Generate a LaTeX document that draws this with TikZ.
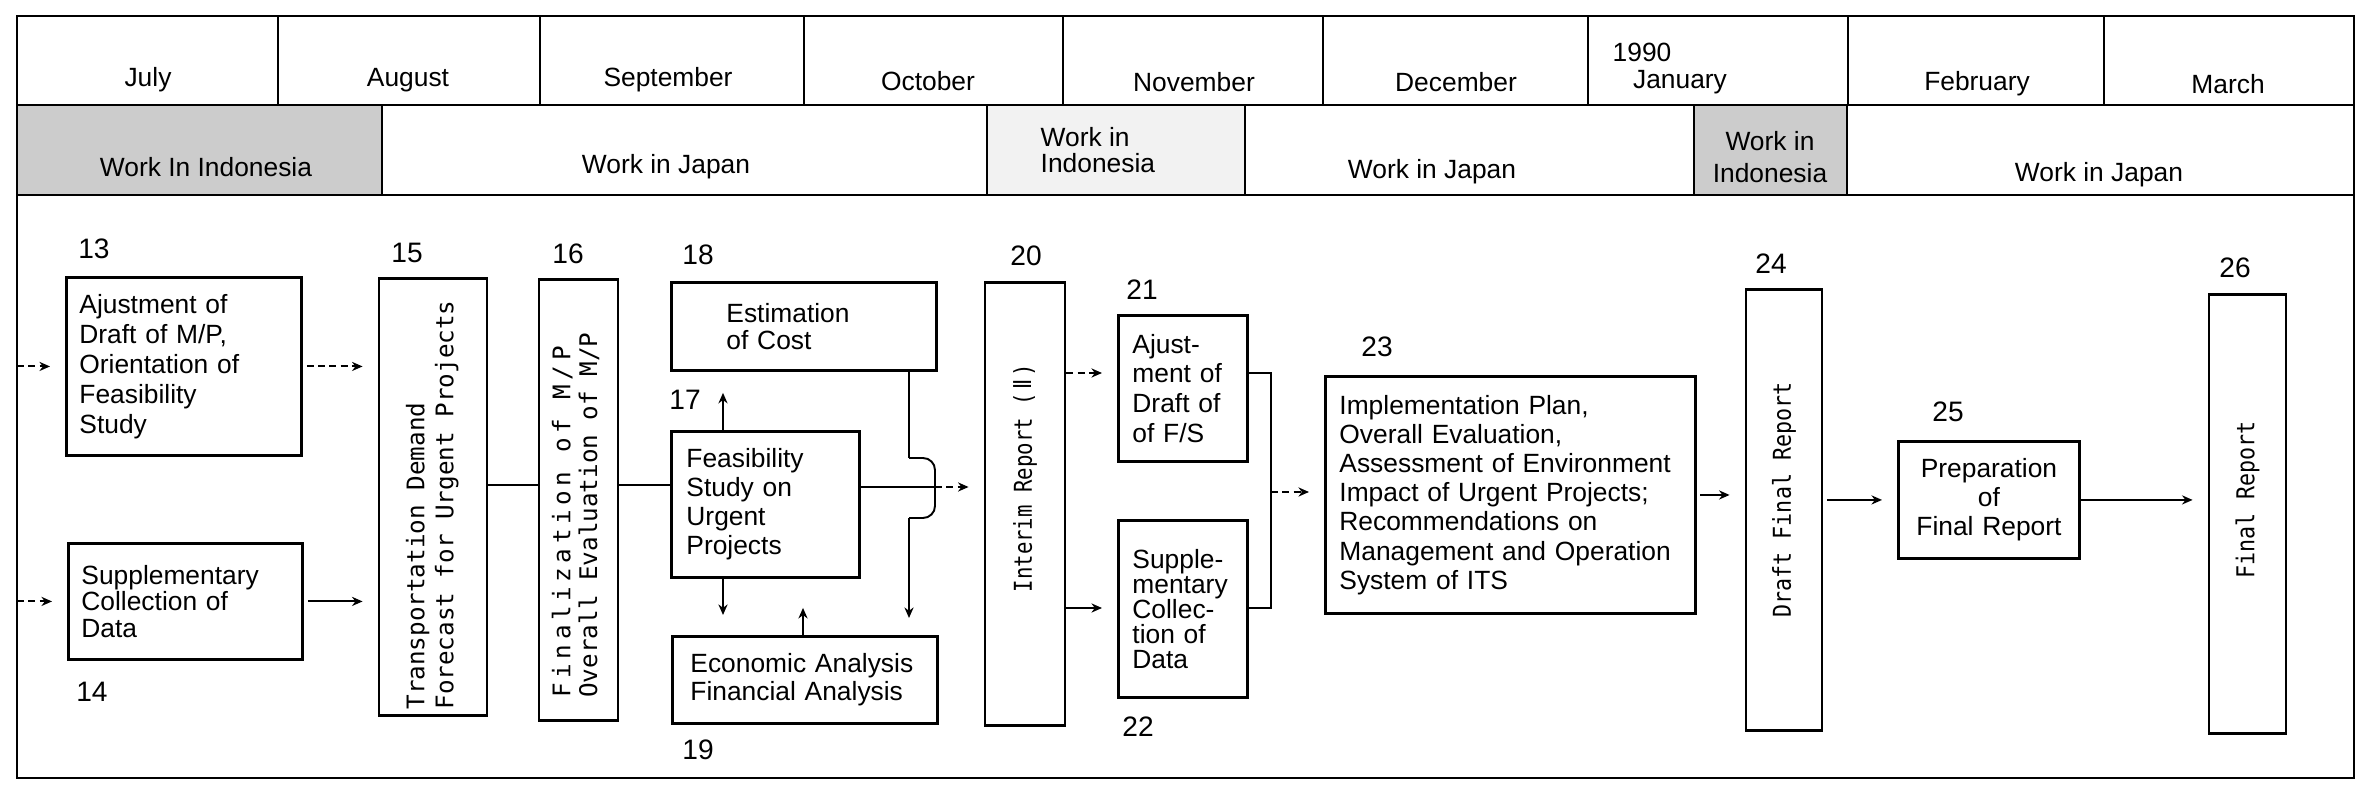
\documentclass[tikz,border=0pt]{standalone}
\usepackage{fontspec}
\setmainfont{Liberation Sans}
\newfontfamily\vmono{DejaVu Sans Mono}
\newfontfamily\symf{DejaVu Sans}
\usetikzlibrary{arrows.meta}
\newcommand\bfs[1]{\fontsize{7.5}{#1}\selectfont}
\newcommand\vfs[2]{\vmono\fontsize{#1}{#2}\selectfont}
\begin{document}
\begin{tikzpicture}[x=0.01cm, y=-0.01cm,
  frame/.style={line width=0.8pt},
  box/.style={draw, line width=0.8pt, inner ysep=0pt, anchor=north west, align=left},
  vbox/.style={draw, line width=0.8pt, inner sep=0pt},
  lbl/.style={font={\bfs{9}}, inner sep=0pt},
  num/.style={font={\fontsize{8}{9}\selectfont}, inner sep=0pt},
  line/.style={line width=0.55pt},
  arr/.style={line width=0.55pt, -{Stealth[length=3pt,width=2.6pt]}, shorten >=0.15cm},
  dsh/.style={dash pattern=on 2pt off 1.2pt}]
\useasboundingbox (0,0) rectangle (2361,795);

% ---------- header rows ----------
\filldraw[fill=black!20, frame] (17,105) rectangle (382,195);
\filldraw[fill=black!5, frame] (987,105) rectangle (1245,195);
\filldraw[fill=black!20, frame] (1694,105) rectangle (1847,195);
\draw[frame] (17,16) rectangle (2354,778);
\draw[frame] (17,105) -- (2354,105);
\draw[frame] (17,195) -- (2354,195);
\foreach \x in {278,540,804,1063,1323,1588,1848,2104} \draw[frame] (\x,16) -- (\x,105);

\node[lbl] (mjul) at (148,80) {July};
\node[lbl] (maug) at (408,80) {August};
\node[lbl] (msep) at (668,80) {September};
\node[lbl] (moct) at (928,81) {October};
\node[lbl] (mnov) at (1194,82) {November};
\node[lbl] (mdec) at (1456,82) {December};
\node[lbl, anchor=west] (myear) at (1612,52) {1990};
\node[lbl] (mjan) at (1680,82) {January};
\node[lbl] (mfeb) at (1977,84) {February};
\node[lbl] (mmar) at (2228,84) {March};

\node[lbl] (w1) at (206,167) {Work In Indonesia};
\node[lbl] (j1) at (666,167) {Work in Japan};
\node[lbl, anchor=west, align=left, font={\bfs{7.4}}] (w2) at (1040,150) {Work in\\Indonesia};
\node[lbl] (j2) at (1432,172) {Work in Japan};
\node[lbl, align=center, font={\bfs{9}}] (w3) at (1770,157) {Work in\\Indonesia};
\node[lbl] (j3) at (2099,175) {Work in Japan};

% ---------- boxes ----------
\node[box, minimum width=2.35cm, minimum height=1.78cm, text width=2.09cm, inner xsep=0.13cm, font={\bfs{8.5}}] (b13) at (65,276)
  {Ajustment of\\Draft of M/P,\\Orientation of\\Feasibility\\Study};
\node[box, minimum width=2.34cm, minimum height=1.16cm, text width=2.08cm, inner xsep=0.13cm, font={\bfs{7.5}}] (b14) at (67,542)
  {Supplementary\\Collection of\\Data};
\node[vbox, minimum width=1.08cm, minimum height=4.36cm] (b15) at (433,497)
  {\rotatebox{90}{\vfs{6.9}{8.3}\begin{tabular}{@{}l@{}}Transportation Demand\\Forecast for Urgent Projects\end{tabular}\hspace{0.16cm}}};
\node[vbox, minimum width=0.79cm, minimum height=4.40cm] (b16) at (578.5,500)
  {\rotatebox{90}{\vfs{6.9}{7.6}\begin{tabular}{@{}l@{}}{\addfontfeature{LetterSpace=19}Finalization of M/P}\\Overall Evaluation of M/P\end{tabular}\hspace{0.3cm}}};
\node[box, minimum width=2.65cm, minimum height=0.88cm, text width=1.55cm, inner xsep=0.55cm, font={\bfs{7.7}}] (b18) at (670,281)
  {Estimation\\of Cost};
\node[box, minimum width=1.88cm, minimum height=1.46cm, text width=1.58cm, inner xsep=0.15cm, font={\bfs{8.25}}] (b17) at (670,430)
  {Feasibility\\Study on\\Urgent\\Projects};
\node[box, minimum width=2.65cm, minimum height=0.87cm, text width=2.29cm, inner xsep=0.18cm, font={\bfs{8}}] (b19) at (671,635)
  {Economic Analysis\\Financial Analysis};
\node[vbox, minimum width=0.80cm, minimum height=4.42cm] (b20) at (1025,504)
  {\rotatebox{90}{\hspace{0.52cm}\scalebox{0.84}[1]{\vfs{7}{7.5}Interim Report (\,{\symf Ⅱ}\,)}}};
\node[box, minimum width=1.29cm, minimum height=1.46cm, text width=1.01cm, inner xsep=0.14cm, font={\bfs{8.5}}] (b21) at (1117,314)
  {Ajust-\\ment of\\Draft of\\of F/S};
\node[box, minimum width=1.29cm, minimum height=1.77cm, text width=1.01cm, inner xsep=0.14cm, font={\bfs{7.1}}] (b22) at (1117,519)
  {Supple-\\mentary\\Collec-\\tion of\\Data};
\node[box, minimum width=3.70cm, minimum height=2.37cm, text width=3.42cm, inner xsep=0.14cm, font={\bfs{8.3}}] (b23) at (1324,375)
  {Implementation Plan,\\Overall Evaluation,\\Assessment of Environment\\Impact of Urgent Projects;\\Recommendations on\\Management and Operation\\System of ITS};
\node[vbox, minimum width=0.76cm, minimum height=4.40cm] (b24) at (1784,510)
  {\rotatebox{90}{\hspace{0.2cm}\scalebox{0.88}[1]{\vfs{7}{7.5}Draft Final Report}}};
\node[box, minimum width=1.81cm, minimum height=1.17cm, text width=1.53cm, inner xsep=0.14cm, align=center, font={\bfs{8.25}}] (b25) at (1897,440)
  {Preparation\\of\\Final Report};
\node[vbox, minimum width=0.77cm, minimum height=4.38cm] (b26) at (2247.5,514)
  {\rotatebox{90}{\hspace{0.28cm}\scalebox{0.88}[1]{\vfs{7}{7.5}Final Report}}};

% ---------- step numbers ----------
\node[num] (n13) at (94,249) {13};
\node[num] (n14) at (92,692) {14};
\node[num] (n15) at (407,253) {15};
\node[num] (n16) at (568,254) {16};
\node[num] (n17) at (685,400) {17};
\node[num] (n18) at (698,255) {18};
\node[num] (n19) at (698,750) {19};
\node[num] (n20) at (1026,256) {20};
\node[num] (n21) at (1142,290) {21};
\node[num] (n22) at (1138,727) {22};
\node[num] (n23) at (1377,347) {23};
\node[num] (n24) at (1771,264) {24};
\node[num] (n25) at (1948,412) {25};
\node[num] (n26) at (2235,268) {26};

% ---------- connectors ----------
\coordinate (fl) at (17,0);
\draw[arr,dsh] (fl |- b13.west) -- (b13.west);
\draw[arr,dsh] (fl |- b14.west) -- (b14.west);
\draw[arr,dsh,shorten <=0.04cm] (b13.east) -- (b13.east -| b15.west);
\draw[arr,shorten <=0.04cm] (b14.east) -- (b14.east -| b15.west);

\coordinate (r1) at (0,485);
\draw[line] (r1 -| b15.east) -- (r1 -| b16.west);
\draw[line] (r1 -| b16.east) -- (r1 -| b17.west);

\coordinate (r2) at (0,487);
\coordinate (hx) at (935,0);
\coordinate (bx) at (909,0);
\draw[line] (r2 -| b17.east) -- (r2 -| hx);
\draw[arr,dsh] (r2 -| hx) -- (r2 -| b20.west);

\coordinate (h1) at (909,458);
\coordinate (h2) at (935,458);
\coordinate (h3) at (935,518);
\coordinate (h4) at (909,518);
\draw[line] (bx |- b18.south) -- (h1);
\draw[line, rounded corners=0.12cm] (h1) -- (h2) -- (h3) -- (h4);
\draw[arr, shorten >=0.17cm] (h4) -- (bx |- b19.north);

\coordinate (d1) at (723,0);
\coordinate (d2) at (803,0);
\draw[arr, shorten >=0.2cm] (d1 |- b17.south) -- (d1 |- b19.north);
\draw[arr, shorten >=0.29cm] (d2 |- b19.north) -- (d2 |- b17.south);
\draw[arr, shorten >=0.21cm] (d1 |- b17.north) -- (d1 |- b18.south);

\coordinate (m1) at (1271,373);
\coordinate (m2) at (1271,608);
\coordinate (m3) at (1271,492);
\draw[arr,dsh] (m1 -| b20.east) -- (m1 -| b21.west);
\draw[arr] (m2 -| b20.east) -- (m2 -| b22.west);
\draw[line] (m1 -| b21.east) -- (m1) -- (m2) -- (m2 -| b22.east);
\draw[arr,dsh] (m3) -- (m3 -| b23.west);
\draw[arr,shorten <=0.03cm] (b23.east) -- (b23.east -| b24.west);
\draw[arr,shorten <=0.04cm] (b25.west -| b24.east) -- (b25.west);
\draw[arr] (b25.east) -- (b25.east -| b26.west);
\end{tikzpicture}
\end{document}
